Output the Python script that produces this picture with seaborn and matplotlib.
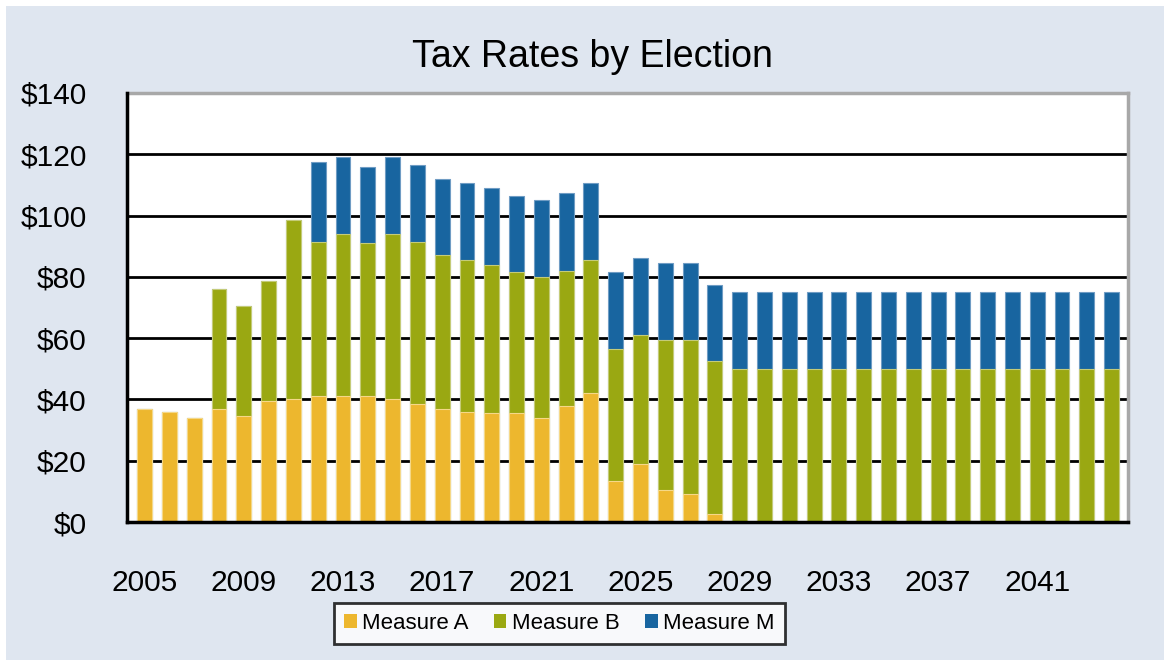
import matplotlib
matplotlib.use("Agg")
import matplotlib.pyplot as plt
import seaborn as sns
import pandas as pd
import numpy as np
from matplotlib.patches import Patch, Rectangle
from matplotlib import font_manager

# ---------------- data ----------------
years = list(range(2005, 2045))
measure_a = [37, 36, 34, 37, 34.5, 39.5, 40, 41, 41, 41, 40, 38.5, 37, 36, 35.5, 35.5,
             34, 38, 42, 13.5, 19, 10.5, 9, 2.5, 0, 0, 0, 0, 0, 0, 0, 0,
             0, 0, 0, 0, 0, 0, 0, 0]
measure_b = [0, 0, 0, 39, 36, 39, 58.5, 50.5, 53, 50, 54, 53, 50, 49.5, 48.5, 46,
             46, 44, 43.5, 43, 42, 49, 50.5, 50, 50, 50, 50, 50, 50, 50, 50, 50,
             50, 50, 50, 50, 50, 50, 50, 50]
measure_m = [0, 0, 0, 0, 0, 0, 0, 26, 25, 25, 25, 25, 25, 25, 25, 25,
             25, 25.5, 25, 25, 25, 25, 25, 25, 25, 25, 25, 25, 25, 25, 25, 25,
             25, 25, 25, 25, 25, 25, 25, 25]
series_names = ["Measure A", "Measure B", "Measure M"]
y_ticks = [0, 20, 40, 60, 80, 100, 120, 140]
x_label_years = [2005, 2009, 2013, 2017, 2021, 2025, 2029, 2033, 2037, 2041]

# ---------------- style ----------------
col_a = "#EDB72E"
col_b = "#9AA812"
col_m = "#1865A0"
bg = "#DFE6F0"

sns.set_style("white")
avail = {f.name for f in font_manager.fontManager.ttflist}
fam = [f for f in ["Liberation Sans", "Arial", "DejaVu Sans"] if f in avail] or ["DejaVu Sans"]
plt.rcParams["font.family"] = fam
plt.rcParams["text.color"] = "black"
plt.rcParams["xtick.color"] = "black"
plt.rcParams["ytick.color"] = "black"
plt.rcParams["xtick.labelcolor"] = "black"
plt.rcParams["ytick.labelcolor"] = "black"

df = pd.DataFrame({"year": [str(y) for y in years],
                   "A": measure_a, "B": measure_b, "M": measure_m})
df["AB"] = df["A"] + df["B"]
df["ABM"] = df["AB"] + df["M"]
order = df["year"].tolist()

fig = plt.figure(figsize=(11.64, 6.6), dpi=100)
fig.patch.set_facecolor(bg)
# thin white strips at top and left like the reference
fig.patches.append(Rectangle((0, 1 - 6 / 660), 1, 6 / 660, transform=fig.transFigure,
                             facecolor="white", edgecolor="none", zorder=0))
fig.patches.append(Rectangle((0, 0), 6 / 1164, 1, transform=fig.transFigure,
                             facecolor="white", edgecolor="none", zorder=0))

ax = fig.add_axes([127 / 1164, 1 - 522 / 660, (1128 - 127) / 1164, (522 - 93) / 660])
ax.set_facecolor("white")

common = dict(order=order, width=0.6, saturation=1, errorbar=None, ax=ax,
              linewidth=0.8, zorder=3)
sns.barplot(data=df, x="year", y="ABM", color=col_m, edgecolor="#6f9cc4", **common)
sns.barplot(data=df, x="year", y="AB", color=col_b, edgecolor="#c4cb78", **common)
sns.barplot(data=df, x="year", y="A", color=col_a, edgecolor="#f5d888", **common)

ax.set_ylim(0, 140)
ax.set_xlim(-0.71, 39.66)
ax.set_xlabel("")
ax.set_ylabel("")

# gridlines
ax.set_yticks(y_ticks)
ax.set_yticklabels([f"${v}" for v in y_ticks], fontsize=21.5, color="black")
for v in y_ticks[1:-1]:
    ax.axhline(v, color="black", lw=2, zorder=2)

# x ticks: labels at bar centers, ticks at category boundaries
pos = [years.index(y) for y in x_label_years]
ax.set_xticks(pos)
ax.set_xticklabels([str(y) for y in x_label_years], fontsize=21.5, color="black")
ax.set_xticks([i - 0.5 for i in range(0, 41)], minor=True)
ax.tick_params(axis="x", which="major", length=0, pad=34)
ax.tick_params(axis="x", which="minor", length=7, width=1.8, direction="out", color="black")
ax.tick_params(axis="y", which="major", length=7, width=1.8, direction="out", color="black", pad=22)
for lab in ax.get_yticklabels():
    lab.set_horizontalalignment("right")

for side in ["left", "bottom"]:
    ax.spines[side].set_color("black")
    ax.spines[side].set_linewidth(2.5)
    ax.spines[side].set_zorder(5)
for side in ["top", "right"]:
    ax.spines[side].set_color("#a8a8a8")
    ax.spines[side].set_linewidth(2.5)
    ax.spines[side].set_visible(True)

fig.text(0.509, 1 - 57 / 660, "Tax Rates by Election", ha="center", va="center",
         fontsize=27, color="black")

handles = [Patch(facecolor=c, edgecolor="none") for c in (col_a, col_b, col_m)]
leg = fig.legend(handles, series_names, loc="center", bbox_to_anchor=(559.5 / 1164, 1 - 623.5 / 660),
                 ncol=3, fontsize=16, frameon=True, fancybox=False, handlelength=0.55,
                 handleheight=0.55, handletextpad=0.25, columnspacing=1.15,
                 borderpad=0.45, borderaxespad=0)
leg.get_frame().set_edgecolor("black")
leg.get_frame().set_linewidth(2)
leg.get_frame().set_facecolor("white")
for t in leg.get_texts():
    t.set_color("black")

fig.savefig("out.png", dpi=100, facecolor=fig.get_facecolor())
